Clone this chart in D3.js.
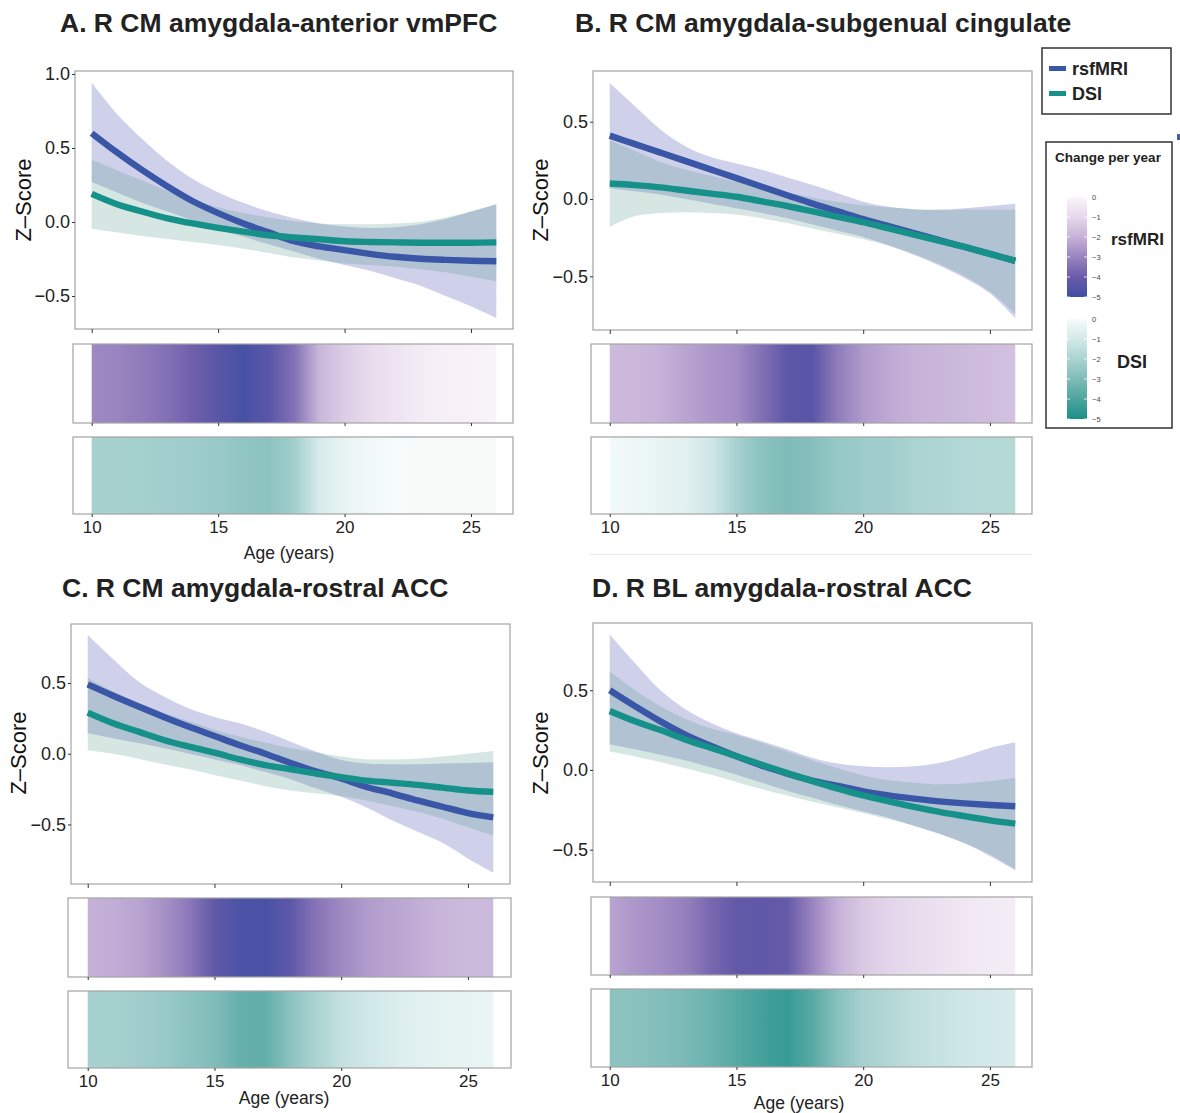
<!DOCTYPE html>
<html>
<head>
<meta charset="utf-8">
<script src="https://cdn.jsdelivr.net/npm/d3@7"></script>
<style>
  html, body { margin: 0; padding: 0; background: #fff; }
  svg { display: block; font-family: "Liberation Sans", Arial, Helvetica, sans-serif; }
</style>
</head>
<body>
<svg id="fig" width="1180" height="1113"></svg>
<script>
// ---- data -------------------------------------------------------------
const ages = [10, 11, 12, 13, 14, 15, 16, 17, 18, 19, 20, 21, 22, 23, 24, 25, 26];
const xTicks = [10, 15, 20, 25];
const yTicksA = [-0.5, 0, 0.5, 1.0];
const yTicksOther = [-0.5, 0, 0.5];
const legendTicks = [0, -1, -2, -3, -4, -5];
const seriesNames = ["rsfMRI", "DSI"];

// A. R CM amygdala - anterior vmPFC
const aRsfFit = [0.60, 0.47, 0.35, 0.24, 0.14, 0.06, -0.01, -0.07, -0.13, -0.165, -0.19, -0.215, -0.235, -0.248, -0.256, -0.262, -0.265];
const aRsfLo  = [0.27, 0.20, 0.13, 0.07, 0.01, -0.05, -0.10, -0.15, -0.20, -0.25, -0.29, -0.33, -0.38, -0.43, -0.50, -0.57, -0.65];
const aRsfHi  = [0.94, 0.73, 0.56, 0.41, 0.29, 0.20, 0.13, 0.07, 0.025, -0.01, -0.03, -0.04, -0.035, -0.015, 0.02, 0.07, 0.12];
const aDsiFit = [0.19, 0.12, 0.07, 0.025, -0.01, -0.04, -0.065, -0.09, -0.105, -0.117, -0.13, -0.135, -0.138, -0.14, -0.14, -0.14, -0.138];
const aDsiLo  = [-0.045, -0.07, -0.095, -0.115, -0.135, -0.155, -0.18, -0.21, -0.24, -0.26, -0.28, -0.29, -0.30, -0.32, -0.34, -0.37, -0.40];
const aDsiHi  = [0.42, 0.35, 0.28, 0.21, 0.15, 0.10, 0.06, 0.03, 0.005, -0.01, -0.015, -0.015, -0.01, 0.0, 0.03, 0.07, 0.12];
const aRsfRate = [-2.9, -3.0, -3.2, -3.5, -3.9, -4.4, -4.8, -4.4, -3.5, -1.9, -1.3, -0.9, -0.6, -0.35, -0.2, -0.12, -0.08];
const aDsiRate = [-2.1, -2.1, -2.15, -2.2, -2.3, -2.4, -2.6, -2.7, -2.2, -0.9, -0.4, -0.15, 0.0, 0.05, 0.1, 0.15, 0.15];

// B. R CM amygdala - subgenual cingulate
const bRsfFit = [0.41, 0.355, 0.30, 0.245, 0.19, 0.135, 0.08, 0.025, -0.03, -0.08, -0.13, -0.175, -0.22, -0.265, -0.31, -0.355, -0.40];
const bRsfLo  = [0.07, 0.05, 0.03, 0.0, -0.03, -0.06, -0.09, -0.125, -0.165, -0.205, -0.245, -0.30, -0.36, -0.43, -0.51, -0.61, -0.77];
const bRsfHi  = [0.75, 0.60, 0.45, 0.34, 0.27, 0.23, 0.19, 0.14, 0.09, 0.037, -0.017, -0.05, -0.067, -0.07, -0.06, -0.045, -0.03];
const bDsiFit = [0.10, 0.09, 0.075, 0.055, 0.035, 0.015, -0.015, -0.045, -0.08, -0.115, -0.15, -0.19, -0.23, -0.27, -0.31, -0.355, -0.40];
const bDsiLo  = [-0.18, -0.11, -0.09, -0.085, -0.09, -0.10, -0.125, -0.155, -0.19, -0.225, -0.26, -0.30, -0.355, -0.42, -0.50, -0.60, -0.74];
const bDsiHi  = [0.38, 0.31, 0.24, 0.19, 0.15, 0.11, 0.075, 0.04, 0.01, -0.02, -0.04, -0.055, -0.065, -0.07, -0.07, -0.07, -0.07];
const bRsfRate = [-1.8, -1.85, -2.0, -2.3, -2.6, -2.8, -3.5, -4.3, -4.4, -3.2, -2.5, -2.2, -2.0, -1.9, -1.8, -1.7, -1.6];
const bDsiRate = [-0.1, -0.25, -0.4, -0.6, -1.1, -2.1, -2.75, -3.0, -2.85, -2.5, -2.3, -2.2, -2.0, -1.9, -1.8, -1.75, -1.7];

// C. R CM amygdala - rostral ACC
const cRsfFit = [0.49, 0.41, 0.334, 0.26, 0.19, 0.125, 0.06, 0.0, -0.065, -0.125, -0.175, -0.235, -0.28, -0.33, -0.375, -0.42, -0.45];
const cRsfLo  = [0.145, 0.11, 0.075, 0.04, 0.0, -0.04, -0.08, -0.13, -0.18, -0.245, -0.305, -0.38, -0.47, -0.55, -0.63, -0.74, -0.84];
const cRsfHi  = [0.84, 0.67, 0.51, 0.405, 0.32, 0.26, 0.215, 0.155, 0.085, 0.015, -0.045, -0.07, -0.075, -0.075, -0.07, -0.065, -0.06];
const cDsiFit = [0.29, 0.215, 0.156, 0.097, 0.05, 0.007, -0.04, -0.08, -0.11, -0.14, -0.165, -0.19, -0.205, -0.22, -0.24, -0.26, -0.27];
const cDsiLo  = [0.025, 0.0, -0.035, -0.075, -0.11, -0.15, -0.19, -0.23, -0.26, -0.28, -0.30, -0.33, -0.37, -0.41, -0.46, -0.52, -0.58];
const cDsiHi  = [0.535, 0.44, 0.36, 0.29, 0.23, 0.17, 0.12, 0.08, 0.04, 0.01, -0.02, -0.04, -0.04, -0.035, -0.02, 0.0, 0.02];
const cRsfRate = [-2.0, -2.1, -2.3, -2.7, -3.3, -4.2, -4.7, -4.75, -4.3, -3.4, -2.9, -2.5, -2.3, -2.1, -1.9, -1.8, -1.8];
const cDsiRate = [-2.1, -2.15, -2.2, -2.4, -2.7, -3.0, -3.5, -3.6, -2.7, -2.0, -1.4, -1.1, -0.8, -0.6, -0.45, -0.4, -0.35];

// D. R BL amygdala - rostral ACC
const dRsfFit = [0.50, 0.40, 0.305, 0.22, 0.15, 0.086, 0.027, -0.023, -0.067, -0.10, -0.134, -0.16, -0.18, -0.197, -0.21, -0.22, -0.228];
const dRsfLo  = [0.16, 0.13, 0.095, 0.06, 0.015, -0.03, -0.08, -0.13, -0.175, -0.22, -0.26, -0.30, -0.35, -0.40, -0.46, -0.54, -0.63];
const dRsfHi  = [0.85, 0.67, 0.50, 0.38, 0.295, 0.23, 0.18, 0.13, 0.075, 0.04, 0.023, 0.017, 0.023, 0.044, 0.086, 0.138, 0.174];
const dDsiFit = [0.37, 0.305, 0.25, 0.19, 0.138, 0.086, 0.033, -0.02, -0.07, -0.117, -0.16, -0.197, -0.232, -0.263, -0.29, -0.316, -0.337];
const dDsiLo  = [0.115, 0.085, 0.05, 0.01, -0.03, -0.075, -0.12, -0.16, -0.20, -0.235, -0.27, -0.31, -0.35, -0.40, -0.46, -0.53, -0.62];
const dDsiHi  = [0.62, 0.50, 0.40, 0.32, 0.26, 0.22, 0.17, 0.115, 0.06, 0.01, -0.035, -0.065, -0.08, -0.09, -0.085, -0.07, -0.05];
const dRsfRate = [-2.3, -2.6, -2.8, -3.1, -3.7, -4.2, -4.25, -4.1, -3.0, -2.0, -1.4, -1.1, -0.9, -0.7, -0.5, -0.4, -0.3];
const dDsiRate = [-2.7, -2.75, -2.9, -3.1, -3.4, -3.8, -4.2, -4.45, -3.8, -2.8, -2.1, -1.8, -1.5, -1.3, -1.1, -1.0, -0.9];

// ---- styling ----------------------------------------------------------
const rsfLine = "#3a56a6", dsiLine = "#16918a";
const rsfRibbon = "#3f43ab", dsiRibbon = "#579b8f";
const ribbonAlpha = 0.25;
const frameGrey = "#a3a3a3", textDark = "#222";
const rsfScale = d3.scaleLinear().domain([-5, -4, -3, -2, -1, 0])
  .range(["#3f4fa4", "#6a5ba9", "#9a84c0", "#c6b2d8", "#e6d8ec", "#faf6fa"]);
const dsiScale = d3.scaleLinear().domain([-5, -4, -3, -2, -1, 0, 1])
  .range(["#1a8f89", "#4ea49f", "#7fbcb9", "#aad3d1", "#d3e9e9", "#f6fbfb", "#fff2ea"]);

// ---- layout -----------------------------------------------------------
const xDomain = [9.34, 26.66];
const panels = [
  { title: "A. R CM amygdala-anterior vmPFC", tx: 60, ty: 32,
    box: [75, 71, 513, 329], yDom: [-0.723, 1.02], yTicks: yTicksA,
    strips: [[73, 344, 513, 423], [73, 437, 513, 514]], yTitle: [23, 200], ageTitle: [289, 553],
    fit: [aRsfFit, aDsiFit], lo: [aRsfLo, aDsiLo], hi: [aRsfHi, aDsiHi], rate: [aRsfRate, aDsiRate] },
  { title: "B. R CM amygdala-subgenual cingulate", tx: 575, ty: 32,
    box: [593, 71, 1032, 330], yDom: [-0.847, 0.828], yTicks: yTicksOther,
    strips: [[591, 344, 1032, 423], [591, 437, 1032, 514]], yTitle: [540, 200], ageTitle: null,
    fit: [bRsfFit, bDsiFit], lo: [bRsfLo, bDsiLo], hi: [bRsfHi, bDsiHi], rate: [bRsfRate, bDsiRate] },
  { title: "C. R CM amygdala-rostral ACC", tx: 62, ty: 597,
    box: [71, 624, 510, 884], yDom: [-0.921, 0.917], yTicks: yTicksOther,
    strips: [[68, 898, 511, 977], [68, 991, 511, 1068]], yTitle: [18, 753], ageTitle: [284, 1098],
    fit: [cRsfFit, cDsiFit], lo: [cRsfLo, cDsiLo], hi: [cRsfHi, cDsiHi], rate: [cRsfRate, cDsiRate] },
  { title: "D. R BL amygdala-rostral ACC", tx: 592, ty: 597,
    box: [593, 623, 1032, 882], yDom: [-0.703, 0.922], yTicks: yTicksOther,
    strips: [[591, 897, 1032, 975], [591, 989, 1032, 1067]], yTitle: [540, 753], ageTitle: [799, 1103],
    fit: [dRsfFit, dDsiFit], lo: [dRsfLo, dDsiLo], hi: [dRsfHi, dDsiHi], rate: [dRsfRate, dDsiRate] }
];

const svg = d3.select("#fig");
const defs = svg.append("defs");
const lineColors = [rsfLine, dsiLine];
const ribbonColors = [rsfRibbon, dsiRibbon];
const rateScales = [rsfScale, dsiScale];
const fmt = d3.format(".1f");

function styleAxis(g, fontSize) {
  g.select(".domain").remove();
  g.selectAll(".tick line").attr("stroke", "#333").attr("stroke-width", 1);
  g.selectAll(".tick text").attr("fill", textDark).attr("font-size", fontSize)
    .attr("font-family", "'Liberation Sans', Arial, sans-serif");
}

panels.forEach((p, pi) => {
  const g = svg.append("g");
  const [bx0, by0, bx1, by1] = p.box;
  const x = d3.scaleLinear().domain(xDomain).range([bx0, bx1]);
  const y = d3.scaleLinear().domain(p.yDom).range([by1, by0]);

  // confidence ribbons, then fitted trajectories
  [0, 1].forEach(s => {
    const area = d3.area()
      .x((d, i) => x(ages[i]))
      .y0((d, i) => y(p.lo[s][i]))
      .y1((d, i) => y(p.hi[s][i]))
      .curve(d3.curveCatmullRom.alpha(0.5));
    g.append("path").datum(ages).attr("d", area)
      .attr("fill", ribbonColors[s]).attr("fill-opacity", ribbonAlpha);
  });
  [0, 1].forEach(s => {
    const line = d3.line()
      .x((d, i) => x(ages[i]))
      .y((d, i) => y(p.fit[s][i]))
      .curve(d3.curveCatmullRom.alpha(0.5));
    g.append("path").datum(ages).attr("d", line)
      .attr("fill", "none").attr("stroke", lineColors[s])
      .attr("stroke-width", 6.4).attr("stroke-linecap", "butt");
  });

  g.append("rect").attr("x", bx0).attr("y", by0)
    .attr("width", bx1 - bx0).attr("height", by1 - by0)
    .attr("fill", "none").attr("stroke", frameGrey).attr("stroke-width", 1.2);

  const yAxis = g.append("g").attr("transform", `translate(${bx0},0)`)
    .call(d3.axisLeft(y).tickValues(p.yTicks).tickSize(3).tickPadding(2).tickFormat(fmt));
  styleAxis(yAxis, 18);

  const xAxisTop = g.append("g").attr("transform", `translate(0,${by1})`)
    .call(d3.axisBottom(x).tickValues(xTicks).tickSize(4).tickFormat(""));
  styleAxis(xAxisTop, 17);

  g.append("text").attr("transform", `translate(${p.yTitle[0]},${p.yTitle[1]}) rotate(-90)`)
    .attr("text-anchor", "middle").attr("dominant-baseline", "central")
    .attr("font-size", 22).attr("fill", "#111").text("Z\u2013Score");

  g.append("text").attr("x", p.tx).attr("y", p.ty)
    .attr("font-size", 26.5).attr("font-weight", "bold").attr("fill", "#222").text(p.title);

  // change-per-year strips (rsfMRI above, DSI below)
  p.strips.forEach((st, s) => {
    const [sx0, sy0, sx1, sy1] = st;
    const id = `rate-${pi}-${s}`;
    const grad = defs.append("linearGradient").attr("id", id)
      .attr("gradientUnits", "userSpaceOnUse")
      .attr("x1", x(ages[0])).attr("x2", x(ages[ages.length - 1]))
      .attr("y1", 0).attr("y2", 0);
    const span = x(ages[ages.length - 1]) - x(ages[0]);
    ages.forEach((a, i) => {
      grad.append("stop").attr("offset", (x(a) - x(ages[0])) / span)
        .attr("stop-color", rateScales[s](p.rate[s][i]));
    });
    g.append("rect").attr("x", x(ages[0])).attr("y", sy0)
      .attr("width", span).attr("height", sy1 - sy0).attr("fill", `url(#${id})`);
    g.append("rect").attr("x", sx0).attr("y", sy0)
      .attr("width", sx1 - sx0).attr("height", sy1 - sy0)
      .attr("fill", "none").attr("stroke", frameGrey).attr("stroke-width", 1.2);
    const ax = g.append("g").attr("transform", `translate(0,${sy1})`)
      .call(d3.axisBottom(x).tickValues(xTicks).tickSize(3).tickPadding(4)
        .tickFormat(s === 1 ? d3.format("d") : ""));
    styleAxis(ax, 17);
  });

  if (p.ageTitle) {
    g.append("text").attr("x", p.ageTitle[0]).attr("y", p.ageTitle[1])
      .attr("text-anchor", "middle").attr("dominant-baseline", "central")
      .attr("font-size", 17.5).attr("fill", textDark).text("Age (years)");
  }
});

// faint rule under panel B
svg.append("line").attr("x1", 590).attr("x2", 1032).attr("y1", 554.5).attr("y2", 554.5)
  .attr("stroke", "#ececec").attr("stroke-width", 1);
svg.append("rect").attr("x", 1177).attr("y", 134).attr("width", 3).attr("height", 6).attr("fill", "#4a5aa8");

// ---- series legend ----------------------------------------------------
const leg = svg.append("g");
leg.append("rect").attr("x", 1042).attr("y", 48).attr("width", 129).attr("height", 66)
  .attr("fill", "#fff").attr("stroke", "#333").attr("stroke-width", 1.5);
seriesNames.forEach((name, i) => {
  const cy = 68.5 + i * 25;
  leg.append("rect").attr("x", 1049).attr("y", cy - 2.5).attr("width", 17).attr("height", 5)
    .attr("fill", lineColors[i]);
  leg.append("text").attr("x", 1072).attr("y", cy + 6.5)
    .attr("font-size", 18).attr("font-weight", "bold").attr("fill", "#222").text(name);
});

// ---- change-per-year colour bars -------------------------------------
const cb = svg.append("g");
cb.append("rect").attr("x", 1046).attr("y", 142).attr("width", 126).attr("height", 286)
  .attr("fill", "#fff").attr("stroke", "#333").attr("stroke-width", 1.5);
cb.append("text").attr("x", 1108).attr("y", 161.5).attr("text-anchor", "middle")
  .attr("font-size", 13.5).attr("font-weight", "bold").attr("fill", "#222").text("Change per year");

const bars = [
  { top: 197, label: "rsfMRI", lx: 1111, ly: 245, size: 17 },
  { top: 319, label: "DSI", lx: 1117, ly: 368, size: 18 }
];
bars.forEach((b, i) => {
  const yb = d3.scaleLinear().domain([0, -5]).range([b.top, b.top + 100]);
  const id = `bar-${i}`;
  const grad = defs.append("linearGradient").attr("id", id)
    .attr("gradientUnits", "userSpaceOnUse")
    .attr("x1", 0).attr("x2", 0).attr("y1", yb(0)).attr("y2", yb(-5));
  legendTicks.forEach(t => {
    grad.append("stop").attr("offset", (yb(t) - yb(0)) / (yb(-5) - yb(0)))
      .attr("stop-color", rateScales[i](t));
  });
  cb.append("rect").attr("x", 1067).attr("y", yb(0)).attr("width", 20).attr("height", yb(-5) - yb(0))
    .attr("fill", `url(#${id})`);
  legendTicks.forEach(t => {
    cb.append("line").attr("x1", 1067).attr("x2", 1070).attr("y1", yb(t)).attr("y2", yb(t))
      .attr("stroke", "#fff").attr("stroke-width", 0.8);
    cb.append("line").attr("x1", 1084).attr("x2", 1087).attr("y1", yb(t)).attr("y2", yb(t))
      .attr("stroke", "#fff").attr("stroke-width", 0.8);
    cb.append("text").attr("x", 1092).attr("y", yb(t)).attr("dominant-baseline", "central")
      .attr("font-size", 7.5).attr("fill", "#444").text(d3.format("d")(t));
  });
  cb.append("text").attr("x", b.lx).attr("y", b.ly)
    .attr("font-size", b.size).attr("font-weight", "bold").attr("fill", "#222").text(b.label);
});
</script>
</body>
</html>
